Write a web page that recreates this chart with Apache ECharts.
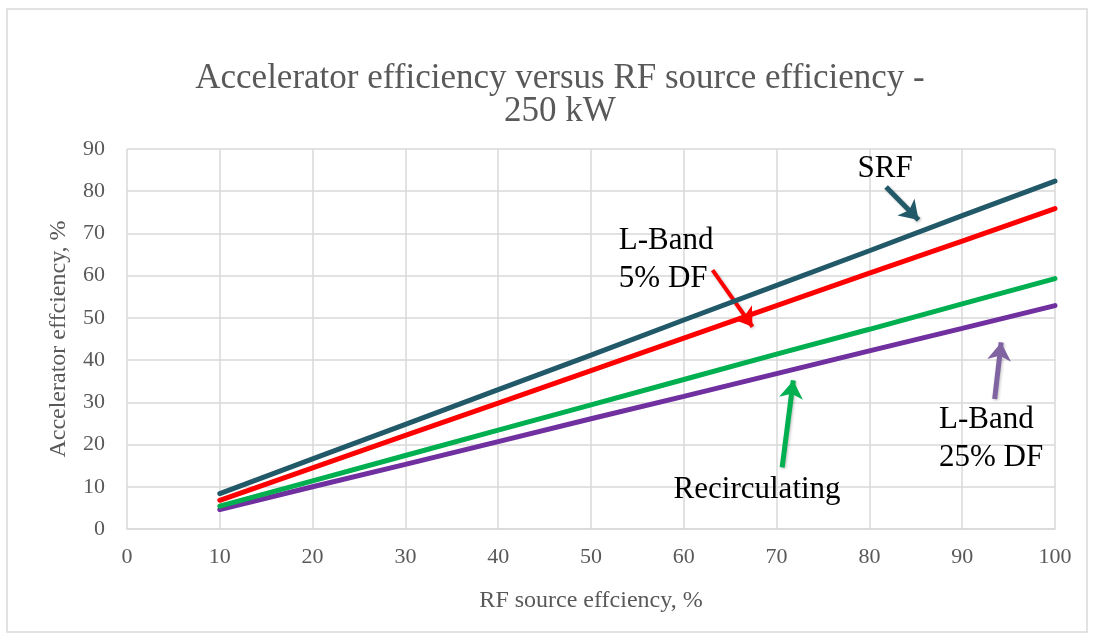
<!DOCTYPE html>
<html>
<head>
<meta charset="utf-8">
<script src="https://cdn.jsdelivr.net/npm/echarts@6/dist/echarts.min.js"></script>
<style>
  html, body { margin: 0; padding: 0; background: #fff; }
  #mychart { width: 1094px; height: 639px; }
</style>
</head>
<body>
<div id="mychart"></div>
<script>
// RF source efficiency (x) and accelerator efficiency per design (y), in %
var rfEff = [10, 20, 30, 40, 50, 60, 70, 80, 90, 100];
var srf = [8.4, 16.6, 24.8, 33.0, 41.2, 49.5, 57.7, 65.9, 74.2, 82.4];
var lband5 = [6.8, 14.5, 22.2, 29.8, 37.5, 45.2, 52.9, 60.6, 68.2, 75.9];
var recirc = [5.4, 11.4, 17.4, 23.4, 29.4, 35.4, 41.4, 47.3, 53.3, 59.3];
var lband25 = [4.6, 10.0, 15.3, 20.7, 26.1, 31.4, 36.8, 42.2, 47.5, 52.9];

var grayText = '#595959';
var serif = 'Liberation Serif';

function pairs(ys) {
	var out = [];
	for (var i = 0; i < rfEff.length; i++) {
		out.push([rfEff[i], ys[i]]);
	}
	return out;
}

// arrow from tail to head, in data coords
function arrow(from, to, color, width) {
	return {
		silent: true,
		symbol: ['none', 'arrow'],
		symbolSize: [18, 18],
		label: { show: false },
		lineStyle: {
			color: color,
			width: width,
			type: 'solid',
			shadowColor: 'rgba(0,0,0,0.25)',
			shadowBlur: 3,
			shadowOffsetX: 1,
			shadowOffsetY: 1
		},
		emphasis: { disabled: true },
		animation: false,
		data: [[{ coord: from }, { coord: to }]]
	};
}

function note(coord, text, align) {
	return {
		silent: true,
		symbol: 'rect',
		symbolSize: 1,
		itemStyle: { color: 'transparent' },
		animation: false,
		data: [{
			coord: coord,
			label: {
				show: true,
				position: 'inside',
				formatter: text,
				align: align,
				verticalAlign: 'middle',
				color: '#000',
				fontFamily: serif,
				fontSize: 31,
				lineHeight: 38
			}
		}]
	};
}

var myChart = echarts.init(document.getElementById('mychart'));

var option = {
	animation: false,
	backgroundColor: '#fff',
	title: {
		text: 'Accelerator efficiency versus RF source efficiency -\n250 kW',
		left: 555,
		top: 57,
		textAlign: 'center',
		textStyle: {
			color: grayText,
			fontFamily: serif,
			fontWeight: 'normal',
			fontSize: 35,
			lineHeight: 33
		}
	},
	graphic: [{
		type: 'rect',
		shape: { x: 7, y: 9, width: 1080, height: 623 },
		style: { fill: 'none', stroke: '#d9d9d9', lineWidth: 1.5 },
		silent: true
	}],
	grid: {
		left: 127,
		right: 39,
		top: 149,
		bottom: 110
	},
	xAxis: {
		type: 'value',
		min: 0,
		max: 100,
		interval: 10,
		name: 'RF source effciency, %',
		nameLocation: 'middle',
		nameGap: 60,
		nameTextStyle: { color: grayText, fontFamily: serif, fontSize: 24 },
		axisLine: { show: true, lineStyle: { color: '#d9d9d9', width: 1.5 } },
		axisTick: { show: false },
		axisLabel: { color: grayText, fontFamily: serif, fontSize: 22, margin: 17 },
		splitLine: { show: true, lineStyle: { color: '#d9d9d9', width: 1.5 } }
	},
	yAxis: {
		type: 'value',
		min: 0,
		max: 90,
		interval: 10,
		name: 'Accelerator effciency, %',
		nameLocation: 'middle',
		nameGap: 56,
		nameTextStyle: { color: grayText, fontFamily: serif, fontSize: 24 },
		axisLine: { show: false },
		axisTick: { show: false },
		axisLabel: { color: grayText, fontFamily: serif, fontSize: 22, margin: 22 },
		splitLine: { show: true, lineStyle: { color: '#d9d9d9', width: 1.5 } }
	},
	series: [
		{
			name: 'L-Band 25% DF',
			type: 'line',
			data: pairs(lband25),
			showSymbol: false,
			lineStyle: { color: '#7030a0', width: 5, cap: 'round' },
			itemStyle: { color: '#7030a0' },
			z: 2,
			markLine: arrow([93.5, 30.8], [94.2, 44.2], '#8064a2', 5),
			markPoint: note([87.5, 21.4], 'L-Band\n25% DF', 'left')
		},
		{
			name: 'Recirculating',
			type: 'line',
			data: pairs(recirc),
			showSymbol: false,
			lineStyle: { color: '#00b050', width: 5, cap: 'round' },
			itemStyle: { color: '#00b050' },
			z: 3,
			markLine: arrow([70.6, 14.6], [71.8, 35.2], '#00b050', 5),
			markPoint: note([67.9, 9.2], 'Recirculating', 'center')
		},
		{
			name: 'L-Band 5% DF',
			type: 'line',
			data: pairs(lband5),
			showSymbol: false,
			lineStyle: { color: '#ff0000', width: 5, cap: 'round' },
			itemStyle: { color: '#ff0000' },
			z: 4,
			markLine: arrow([63.1, 61.3], [67.4, 47.9], '#ff0000', 4),
			markPoint: note([53.0, 63.7], 'L-Band\n5% DF', 'left')
		},
		{
			name: 'SRF',
			type: 'line',
			data: pairs(srf),
			showSymbol: false,
			lineStyle: { color: '#215968', width: 5, cap: 'round' },
			itemStyle: { color: '#215968' },
			z: 5,
			markLine: arrow([81.8, 81.0], [85.3, 73.2], '#215968', 5),
			markPoint: note([81.7, 85.2], 'SRF', 'center')
		}
	]
};

myChart.setOption(option);
window.onresize = myChart.resize;
</script>
</body>
</html>
